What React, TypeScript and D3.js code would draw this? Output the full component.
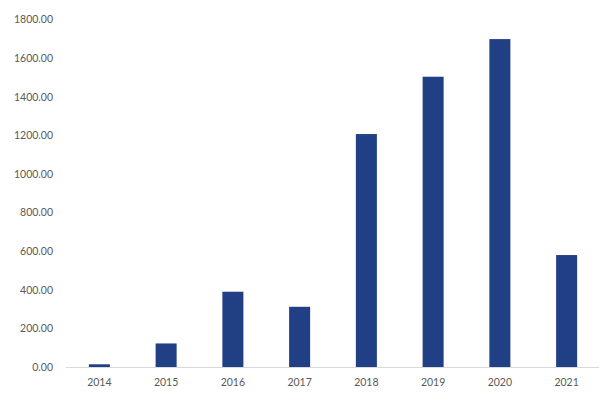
import React, { useEffect, useRef } from "react";
import { select, scaleBand, scaleLinear, axisLeft, format } from "d3";

const years = ["2014", "2015", "2016", "2017", "2018", "2019", "2020", "2021"];
const values = [14, 122, 390, 312, 1207, 1504, 1699, 580];
const yTicks = [0, 200, 400, 600, 800, 1000, 1200, 1400, 1600, 1800];

function App() {
  const svgRef = useRef<SVGSVGElement>(null);

  useEffect(() => {
    const WIDTH = 599;
    const HEIGHT = 399;
    const LEFT = 66;
    const RIGHT = 600;
    const TOP = 19.6;
    const BOTTOM = 367;

    const svg = select(svgRef.current).attr("width", WIDTH).attr("height", HEIGHT);
    svg.selectAll("*").remove();

    const xScale = scaleBand<string>()
      .domain(years)
      .range([LEFT, RIGHT])
      .paddingInner(0.685)
      .paddingOuter(0.3425);

    const yScale = scaleLinear().domain([0, 1800]).range([BOTTOM, TOP]);

    // y labels only, no axis line
    const yAxis = svg
      .append("g")
      .attr("transform", `translate(53, 0)`)
      .call(axisLeft(yScale).tickValues(yTicks).tickFormat(format(".2f")).tickSize(0).tickPadding(0));
    yAxis.select(".domain").remove();
    yAxis
      .selectAll("text")
      .attr("fill", "#595959")
      .attr("font-family", "Lato, 'Open Sans', sans-serif")
      .attr("font-size", 10.5);

    svg
      .append("line")
      .attr("x1", LEFT)
      .attr("x2", RIGHT)
      .attr("y1", yScale(0) + 0.5)
      .attr("y2", yScale(0) + 0.5)
      .attr("stroke", "#d9d9d9")
      .attr("stroke-width", 1);

    svg
      .selectAll(".bar")
      .data(values)
      .join("rect")
      .classed("bar", true)
      .attr("x", (d, i) => xScale(years[i]) as number)
      .attr("width", xScale.bandwidth())
      .attr("y", (d) => yScale(d))
      .attr("height", (d) => yScale(0) - yScale(d))
      .attr("fill", "#213f84");

    svg
      .selectAll(".year")
      .data(years)
      .join("text")
      .classed("year", true)
      .text((d) => d)
      .attr("x", (d) => (xScale(d) as number) + xScale.bandwidth() / 2)
      .attr("y", 382)
      .attr("dy", "0.35em")
      .attr("text-anchor", "middle")
      .attr("fill", "#595959")
      .attr("font-family", "Lato, 'Open Sans', sans-serif")
      .attr("font-size", 10.5);
  }, []);

  return (
    <svg
      ref={svgRef}
      style={{ position: "absolute", left: 0, top: 0, background: "#fff" }}
    ></svg>
  );
}

export default App;
